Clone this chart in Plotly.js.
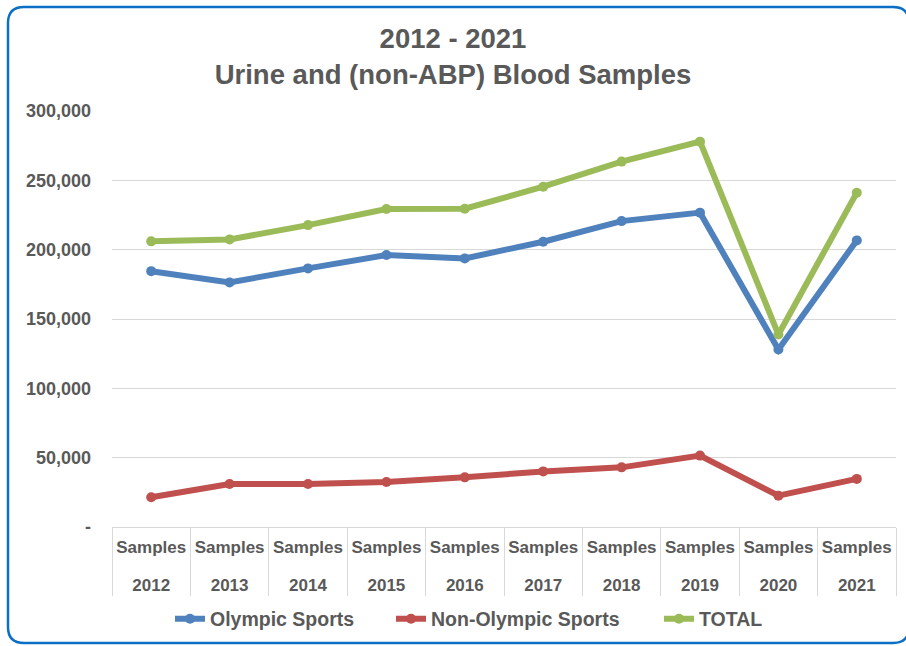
<!DOCTYPE html>
<html>
<head>
<meta charset="utf-8">
<script src="https://cdn.plot.ly/plotly-3.0.1.min.js"></script>
<style>
html,body{margin:0;padding:0;background:#fff;}
#chart{width:906px;height:646px;}
</style>
</head>
<body>
<div id="chart"></div>
<script>
const years = ["2012","2013","2014","2015","2016","2017","2018","2019","2020","2021"];
const sampleLabels = ["Samples","Samples","Samples","Samples","Samples","Samples","Samples","Samples","Samples","Samples"];
const olympic = [184500, 176400, 186500, 196100, 193700, 205700, 220600, 226700, 128000, 206700];
const nonOlympic = [21400, 31000, 31000, 32500, 35800, 40100, 43000, 51500, 22600, 34700];
const total = [206000, 207400, 217700, 229300, 229500, 245400, 263500, 277900, 138800, 241100];
const yTickVals = [0, 50000, 100000, 150000, 200000, 250000, 300000];
const yTickText = ["-", "50,000", "100,000", "150,000", "200,000", "250,000", "300,000"];

const font = "Liberation Sans, Arial, sans-serif";
const grey = "#595959";

// inner label with an extra blank line so the year row sits lower, like the reference
const innerLabels = sampleLabels.map(s => s + "<br>\u00a0");

function tr(name, y, color, legendId) {
  return {
    type: "scatter", mode: "lines+markers", name: name,
    x: [years, innerLabels], y: y,
    line: {color: color, width: 6},
    marker: {color: color, size: 10},
    legend: legendId, showlegend: true
  };
}

const data = [
  tr("Olympic Sports", olympic, "#4F81BD", "legend"),
  tr("Non-Olympic Sports", nonOlympic, "#C0504D", "legend2"),
  tr("TOTAL", total, "#9BBB59", "legend3")
];

// border (rounded rectangle) in paper coords
const W = 784, H = 416;
const px = v => (v - 112) / W;
const py = v => (527 - v) / H;
const L = 8, T = 7, R = 909, B = 643, r = 16;
const path = `M ${px(L)},${py(T + r)} Q ${px(L)},${py(T)} ${px(L + r)},${py(T)} L ${px(R - r)},${py(T)} Q ${px(R)},${py(T)} ${px(R)},${py(T + r)} L ${px(R)},${py(B - r)} Q ${px(R)},${py(B)} ${px(R - r)},${py(B)} L ${px(L + r)},${py(B)} Q ${px(L)},${py(B)} ${px(L)},${py(B - r)} Z`;

const legFont = {family: font, size: 19.5, color: grey, weight: "bold"};
function leg(textStart) {
  return {
    visible: true,
    orientation: "h",
    x: (textStart - 40) / 906, xref: "container", xanchor: "left",
    y: 1 - 619/646, yref: "container", yanchor: "middle",
    font: legFont, bgcolor: "rgba(0,0,0,0)"
  };
}

const layout = {
  width: 906, height: 646,
  showlegend: true,
  margin: {l: 112, r: 10, t: 111, b: 119},
  paper_bgcolor: "#ffffff",
  plot_bgcolor: "#ffffff",
  font: {family: font, color: grey},
  title: {
    text: "<b>2012 - 2021</b><br><b>Urine and (non-ABP) Blood Samples</b>",
    font: {family: font, size: 27.5, color: grey},
    x: 0.5, xref: "container", xanchor: "center",
    y: 1 - 48/646, yref: "container", yanchor: "top"
  },
  xaxis: {
    type: "multicategory",
    range: [-0.5, 9.5],
    automargin: false,
    tickangle: 0,
    ticklabelstandoff: 5,
    showgrid: false,
    showline: true, linecolor: "#D9D9D9", linewidth: 1,
    ticks: "",
    showdividers: true, dividercolor: "#D9D9D9", dividerwidth: 1,
    tickfont: {family: font, size: 17, color: grey, weight: "bold"}
  },
  yaxis: {
    automargin: false,
    range: [0, 300000],
    tickvals: yTickVals, ticktext: yTickText,
    showgrid: true, gridcolor: "#D9D9D9", gridwidth: 1,
    zeroline: false, showline: false, ticks: "",
    ticklabelstandoff: 20,
    tickfont: {family: font, size: 18, color: grey, weight: "bold"}
  },
  legend: leg(210),
  legend2: leg(431),
  legend3: leg(699),
  shapes: [{
    type: "path", xref: "paper", yref: "paper", path: path,
    line: {color: "#0B6FC6", width: 2.5}, fillcolor: "rgba(0,0,0,0)", layer: "above"
  }]
};

Plotly.newPlot("chart", data, layout, {displayModeBar: false, staticPlot: true});
</script>
</body>
</html>
